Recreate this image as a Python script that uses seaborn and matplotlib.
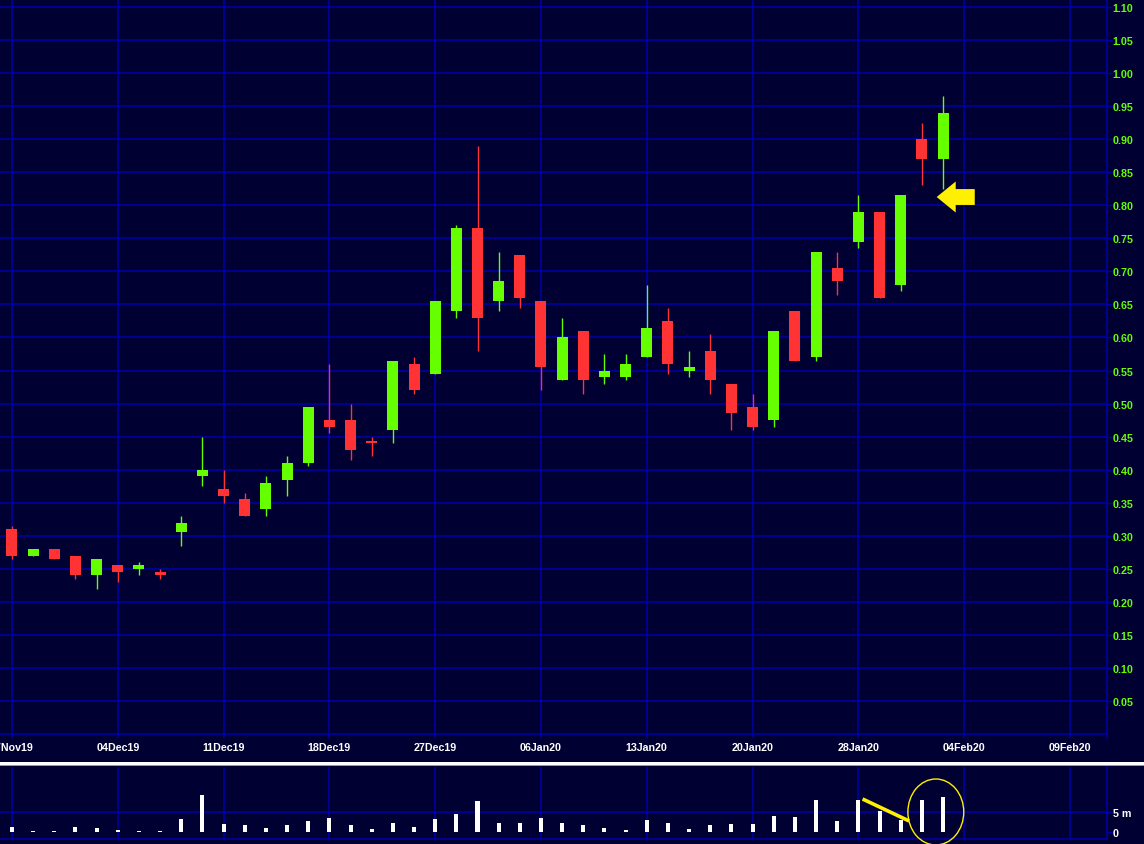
import matplotlib
matplotlib.use("Agg")
import matplotlib.pyplot as plt
from matplotlib.patches import Ellipse, Polygon, Rectangle
import numpy as np
import pandas as pd
import seaborn as sns

# daily OHLC, 27Nov19 .. 03Feb20 (trading days)
OPEN = [0.31, 0.27, 0.28, 0.27, 0.24, 0.255, 0.25, 0.245, 0.305, 0.39,
        0.37, 0.355, 0.34, 0.385, 0.41, 0.475, 0.475, 0.44, 0.46, 0.56,
        0.545, 0.64, 0.765, 0.655, 0.725, 0.655, 0.535, 0.61, 0.54, 0.54,
        0.57, 0.625, 0.55, 0.58, 0.53, 0.495, 0.475, 0.64, 0.57, 0.705,
        0.745, 0.79, 0.68, 0.90, 0.87]
HIGH = [0.315, 0.28, 0.28, 0.27, 0.265, 0.255, 0.26, 0.25, 0.33, 0.45,
        0.40, 0.365, 0.39, 0.42, 0.495, 0.56, 0.50, 0.45, 0.565, 0.57,
        0.655, 0.77, 0.89, 0.73, 0.725, 0.655, 0.63, 0.61, 0.575, 0.575,
        0.68, 0.645, 0.58, 0.605, 0.53, 0.515, 0.61, 0.64, 0.73, 0.73,
        0.815, 0.79, 0.815, 0.925, 0.965]
LOW = [0.265, 0.27, 0.265, 0.235, 0.22, 0.23, 0.24, 0.235, 0.285, 0.375,
       0.35, 0.33, 0.33, 0.36, 0.405, 0.455, 0.415, 0.42, 0.44, 0.515,
       0.545, 0.63, 0.58, 0.64, 0.645, 0.52, 0.535, 0.515, 0.53, 0.535,
       0.57, 0.545, 0.54, 0.515, 0.46, 0.46, 0.465, 0.565, 0.565, 0.665,
       0.735, 0.66, 0.67, 0.83, 0.825]
CLOSE = [0.27, 0.28, 0.265, 0.24, 0.265, 0.245, 0.255, 0.24, 0.32, 0.40,
         0.36, 0.33, 0.38, 0.41, 0.495, 0.465, 0.43, 0.44, 0.565, 0.52,
         0.655, 0.765, 0.63, 0.685, 0.66, 0.555, 0.60, 0.535, 0.55, 0.56,
         0.615, 0.56, 0.555, 0.535, 0.485, 0.465, 0.61, 0.565, 0.73, 0.685,
         0.79, 0.66, 0.815, 0.87, 0.94]
# volume in millions of shares
VOLUME_M = [1.17, 0.25, 0.25, 1.17, 0.92, 0.42, 0.25, 0.25, 3.17, 9.17,
            1.92, 1.67, 0.92, 1.67, 2.67, 3.42, 1.67, 0.67, 2.17, 1.17,
            3.17, 4.42, 7.67, 2.17, 2.17, 3.42, 2.17, 1.67, 0.92, 0.42,
            2.92, 2.17, 0.67, 1.67, 1.92, 1.92, 3.92, 3.67, 7.92, 2.67,
            7.92, 5.17, 2.92, 7.92, 8.67]
DATE_LABELS = ["27Nov19", "04Dec19", "11Dec19", "18Dec19", "27Dec19", "06Jan20",
               "13Jan20", "20Jan20", "28Jan20", "04Feb20", "09Feb20"]
DATE_STEP = 5  # one label every five sessions
PRICE_TICKS = [round(0.05 * k, 2) for k in range(1, 23)]

BG = "#000033"
GRID = "#0000AA"
UP = "#66FF00"
DOWN = "#FF3333"
YELLOW = "#FFEF00"

sns.set_theme(style="dark", rc={
    "figure.facecolor": BG,
    "axes.facecolor": BG,
    "axes.edgecolor": GRID,
    "savefig.facecolor": BG,
})
plt.rcParams["font.family"] = ["Liberation Sans", "DejaVu Sans"]
plt.rcParams["font.weight"] = "bold"

df = pd.DataFrame({"open": OPEN, "high": HIGH, "low": LOW, "close": CLOSE,
                   "volume": VOLUME_M})
df["pos"] = np.arange(len(df))
df["up"] = df["close"] >= df["open"]
df.loc[17, "up"] = False  # the cross on 20Dec19 is drawn red
df["color"] = np.where(df["up"], UP, DOWN)
df["bottom"] = df[["open", "close"]].min(axis=1)
df["height"] = (df["close"] - df["open"]).abs().clip(lower=0.003)

fig = plt.figure(figsize=(11.44, 8.45), dpi=100)
ax = fig.add_axes([0.0, 1 - 739 / 845, 1107 / 1144, 739 / 845])
axv = fig.add_axes([0.0, 1 - 840 / 845, 1107 / 1144, 72 / 845])

xlim = (-0.567, 51.75)
tick_pos = [i * DATE_STEP for i in range(len(DATE_LABELS))]

# price panel
for y in PRICE_TICKS + [0.0]:
    ax.axhline(y, color=GRID, lw=1.1, zorder=0)
for x in tick_pos:
    ax.axvline(x, color=GRID, lw=1.1, zorder=0)
ax.vlines(df["pos"], df["low"], df["high"], colors=df["color"], lw=1, zorder=2)
ax.bar(df["pos"], df["height"], bottom=df["bottom"], width=0.52,
       color=df["color"], linewidth=0, zorder=3)

# arrow pointing at the last session
tip_x, tip_y = 43.7, 0.8125
arrow = Polygon([(tip_x, tip_y), (44.6, tip_y + 0.0235), (44.6, tip_y + 0.012),
                 (45.5, tip_y + 0.012), (45.5, tip_y - 0.012),
                 (44.6, tip_y - 0.012), (44.6, tip_y - 0.0235)],
                closed=True, color=YELLOW, lw=0, zorder=4)
ax.add_patch(arrow)

ax.set_xlim(*xlim)
ax.set_ylim(-0.006, 1.1121)
ax.set_xticks(tick_pos)
ax.set_xticklabels(DATE_LABELS, color="white", fontsize=7.7, fontweight="bold")
ax.tick_params(axis="x", length=0, pad=3)
ax.yaxis.tick_right()
ax.set_yticks(PRICE_TICKS)
ax.set_yticklabels([f"{v:.2f}" for v in PRICE_TICKS], color=UP,
                   fontsize=7.7, fontweight="bold")
ax.tick_params(axis="y", length=3.5, width=1, color=GRID, pad=0.5, right=True,
               left=False)
ax.grid(False)
for side in ["left", "top", "bottom"]:
    ax.spines[side].set_visible(False)
ax.spines["right"].set_color(GRID)
ax.spines["right"].set_linewidth(1.1)

# volume panel
for x in tick_pos:
    axv.axvline(x, color=GRID, lw=1.1, zorder=0)
axv.axhline(5, color=GRID, lw=1.1, zorder=0)
sns.barplot(data=df, x="pos", y="volume", native_scale=True, width=0.19,
            color="white", saturation=1, linewidth=0, ax=axv, zorder=3)
axv.plot([40.2, 42.4], [8.25, 2.75], color=YELLOW, lw=2.6,
         solid_capstyle="butt", zorder=4)
axv.add_patch(Ellipse((43.66, 5.0), 2.64, 16.5, fill=False, ec=YELLOW,
                      lw=1, zorder=4, clip_on=False))
axv.set_xlim(*xlim)
axv.set_ylim(-1.75, 16.25)
axv.set_xticks([])
axv.set_xlabel("")
axv.set_ylabel("")
axv.yaxis.tick_right()
axv.set_yticks([0, 5])
axv.set_yticklabels(["0", "5 m"], color="white", fontsize=7.7, fontweight="bold")
axv.tick_params(axis="y", length=3.5, width=1, color=GRID, pad=0.5, right=True,
                left=False)
axv.grid(False)
for side in ["left", "top"]:
    axv.spines[side].set_visible(False)
for side in ["right", "bottom"]:
    axv.spines[side].set_color(GRID)
    axv.spines[side].set_linewidth(1.1)

# white divider between panels
fig.patches.append(Rectangle((0, 1 - 766 / 845), 1, 3 / 845, color="white",
                             transform=fig.transFigure, figure=fig, lw=0))
fig.patches.append(Rectangle((0, 1 - 767 / 845), 1, 1 / 845, color="#9a9a9a",
                             transform=fig.transFigure, figure=fig, lw=0))

fig.savefig("out.png", dpi=100)
